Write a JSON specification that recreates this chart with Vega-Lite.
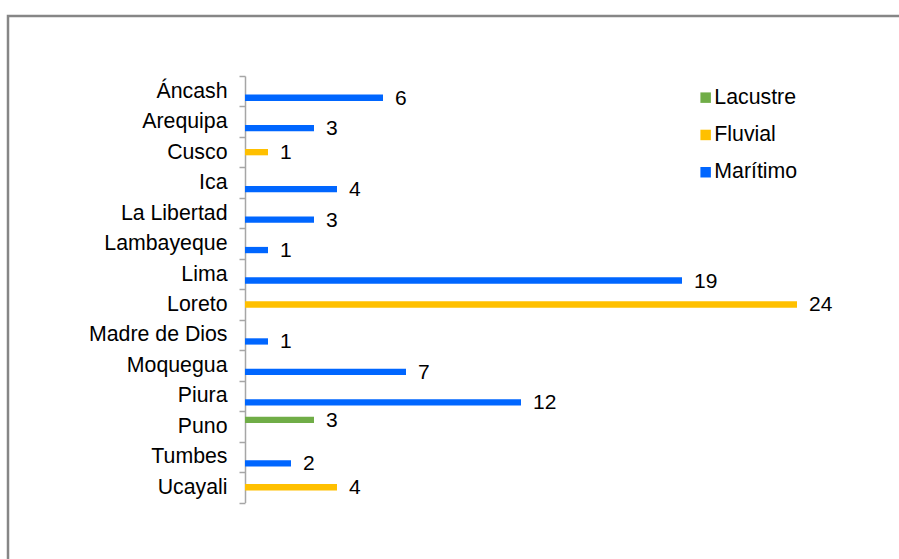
{
  "$schema": "https://vega.github.io/schema/vega-lite/v6.json",
  "autosize": "none",
  "padding": {"left": 8, "top": 16, "right": -3, "bottom": -3},
  "width": 894,
  "height": 546,
  "config": {
    "view": {"stroke": "#868686", "strokeWidth": 2.5},
    "font": "Liberation Sans"
  },
  "data": {
    "values": [
      {"region": "Áncash", "tipo": "Marítimo", "valor": 6},
      {"region": "Arequipa", "tipo": "Marítimo", "valor": 3},
      {"region": "Cusco", "tipo": "Fluvial", "valor": 1},
      {"region": "Ica", "tipo": "Marítimo", "valor": 4},
      {"region": "La Libertad", "tipo": "Marítimo", "valor": 3},
      {"region": "Lambayeque", "tipo": "Marítimo", "valor": 1},
      {"region": "Lima", "tipo": "Marítimo", "valor": 19},
      {"region": "Loreto", "tipo": "Fluvial", "valor": 24},
      {"region": "Madre de Dios", "tipo": "Marítimo", "valor": 1},
      {"region": "Moquegua", "tipo": "Marítimo", "valor": 7},
      {"region": "Piura", "tipo": "Marítimo", "valor": 12},
      {"region": "Puno", "tipo": "Lacustre", "valor": 3},
      {"region": "Tumbes", "tipo": "Marítimo", "valor": 2},
      {"region": "Ucayali", "tipo": "Fluvial", "valor": 4}
    ]
  },
  "encoding": {
    "y": {
      "field": "region",
      "type": "nominal",
      "sort": null,
      "scale": {"range": [60, 486.5], "paddingInner": 0, "paddingOuter": 0},
      "axis": {
        "title": null,
        "orient": "left",
        "offset": -237,
        "tickBand": "extent",
        "domainColor": "#a6a6a6",
        "domainWidth": 1.5,
        "tickColor": "#a6a6a6",
        "tickWidth": 1.5,
        "tickSize": 6,
        "labelPadding": 12,
        "labelFontSize": 21.3,
        "labelColor": "#000000",
        "labelFont": "Liberation Sans",
        "labelLimit": 300
      }
    },
    "yOffset": {
      "field": "tipo",
      "type": "nominal",
      "sort": ["Lacustre", "Fluvial", "Marítimo"],
      "scale": {"domain": ["Lacustre", "Fluvial", "Marítimo"], "paddingInner": 0.03, "paddingOuter": 0.858}
    }
  },
  "layer": [
    {
      "mark": {"type": "bar"},
      "encoding": {
        "x": {
          "field": "valor",
          "type": "quantitative",
          "scale": {"domain": [-10.304, 28.565], "zero": false, "nice": false},
          "axis": null
        },
        "x2": {"datum": 0},
        "color": {
          "field": "tipo",
          "type": "nominal",
          "scale": {"domain": ["Lacustre", "Fluvial", "Marítimo"], "range": ["#70ad47", "#ffc000", "#0066ff"]},
          "legend": {
            "title": null,
            "orient": "none",
            "legendX": 687,
            "legendY": 71,
            "symbolType": "square",
            "symbolSize": 110,
            "symbolStrokeWidth": 0,
            "labelFontSize": 21.3,
            "labelColor": "#000000",
            "labelFont": "Liberation Sans",
            "labelOffset": -2,
            "rowPadding": 15.3
          }
        }
      }
    },
    {
      "mark": {"type": "text", "align": "left", "baseline": "middle", "dx": 12, "dy": 1, "fontSize": 21, "color": "#000000"},
      "encoding": {
        "x": {"field": "valor", "type": "quantitative"},
        "text": {"field": "valor", "type": "quantitative"}
      }
    }
  ]
}
